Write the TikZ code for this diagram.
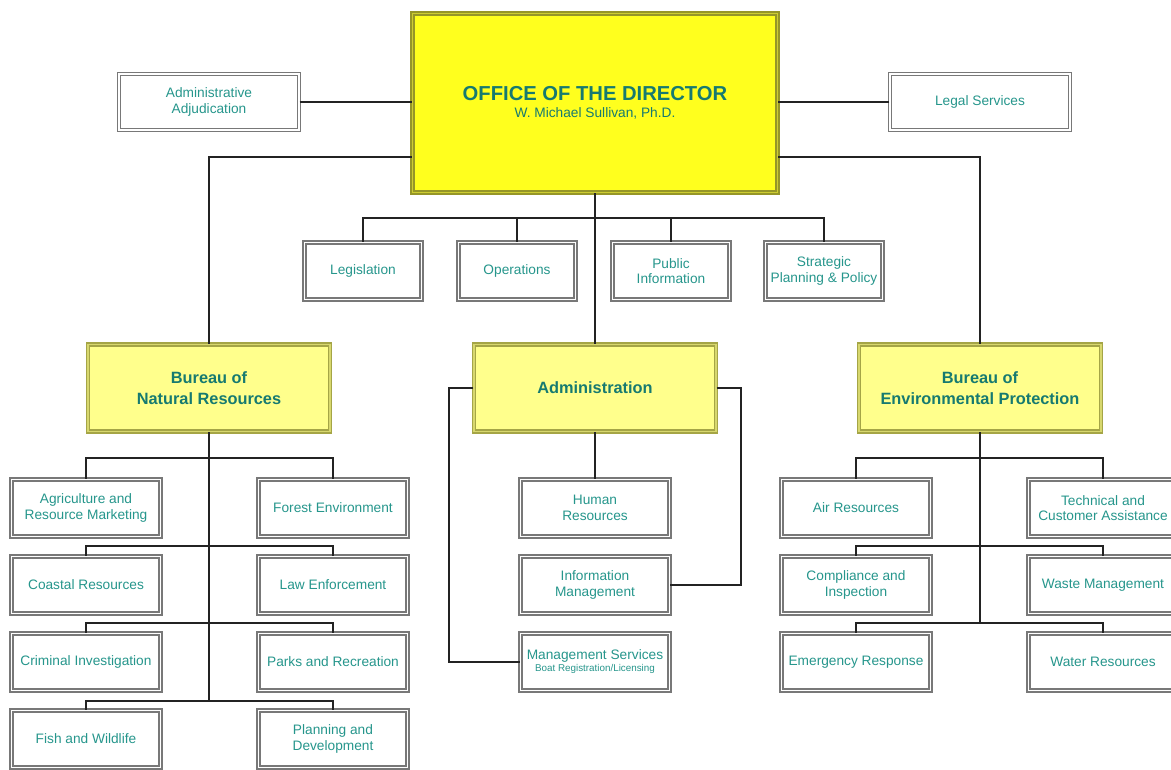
\documentclass[tikz,border=0pt]{standalone}
\usepackage{fontspec}
\setmainfont{Liberation Sans}
\usetikzlibrary{calc}
\definecolor{tealtext}{RGB}{38,150,140}
\definecolor{tealhead}{RGB}{22,122,112}
\definecolor{boxgray}{RGB}{120,120,120}
\definecolor{dirfill}{RGB}{255,255,30}
\definecolor{diredge}{RGB}{150,150,40}
\definecolor{dirmid}{RGB}{205,205,50}
\definecolor{burfill}{RGB}{255,255,140}
\definecolor{buredge}{RGB}{165,165,70}
\definecolor{burmid}{RGB}{215,215,110}
\definecolor{linkgray}{RGB}{35,35,35}
\begin{document}
\begin{tikzpicture}[x=0.02cm,y=0.02cm,
  unit/.style={draw=boxgray,double=white,line width=0.75pt,double distance=0.9pt,fill=white,
    text=tealtext,align=center,inner sep=0pt,font=\fontsize{7.8}{9}\selectfont,
    minimum width=2.98cm,minimum height=1.14cm},
  staff/.style={unit,minimum width=2.34cm},
  side/.style={unit,minimum width=3.6cm,minimum height=1.12cm},
  bureau/.style={unit,draw=buredge,double=burmid,fill=burfill,text=tealhead,
    font=\fontsize{9.3}{11.9}\selectfont\bfseries,minimum width=4.84cm,minimum height=1.74cm},
  director/.style={bureau,draw=diredge,double=dirmid,fill=dirfill,
    font=\fontsize{7.8}{9.8}\selectfont,minimum width=7.3cm,minimum height=3.58cm},
  link/.style={draw=linkgray,line width=1.1pt}]
\useasboundingbox (0,0) rectangle (1171,-769);

\node[director] (dir) at (595,-103) {{\fontsize{11.5}{9.8}\selectfont\bfseries OFFICE OF THE DIRECTOR}\\W. Michael Sullivan, Ph.D.};
\node[side] (adj) at (209,-102) {Administrative\\Adjudication};
\node[side] (legal) at (980,-102) {Legal Services};

\node[staff] (leg) at (363,-271) {Legislation};
\node[staff] (ops) at (517,-271) {Operations};
\node[staff] (pub) at (671,-271) {Public\\Information};
\node[staff] (strat) at (824,-271) {Strategic\\Planning \& Policy};

\node[bureau] (nr) at (209,-388) {Bureau of\\Natural Resources};
\node[bureau] (adm) at (595,-388) {Administration};
\node[bureau] (ep) at (980,-388) {Bureau of\\Environmental Protection};

\node[unit] (agr) at (86,-508) {Agriculture and\\Resource Marketing};
\node[unit] (coast) at (86,-585) {Coastal Resources};
\node[unit] (crim) at (86,-662) {Criminal Investigation};
\node[unit] (fish) at (86,-739) {Fish and Wildlife};
\node[unit] (forest) at (333,-508) {Forest Environment};
\node[unit] (law) at (333,-585) {Law Enforcement};
\node[unit] (parks) at (333,-662) {Parks and Recreation};
\node[unit] (plan) at (333,-739) {Planning and\\Development};

\node[unit] (hr) at (595,-508) {Human\\Resources};
\node[unit] (info) at (595,-585) {Information\\Management};
\node[unit] (mgmt) at (595,-662) {Management Services\\[-2.2pt]{\fontsize{5.6}{7}\selectfont Boat Registration/Licensing}};

\node[unit] (air) at (856,-508) {Air Resources};
\node[unit] (comp) at (856,-585) {Compliance and\\Inspection};
\node[unit] (emer) at (856,-662) {Emergency Response};
\node[unit] (tech) at (1103,-508) {Technical and\\Customer Assistance};
\node[unit] (waste) at (1103,-585) {Waste Management};
\node[unit] (water) at (1103,-662) {Water Resources};

\coordinate (nrend) at (209,-701);
\coordinate (epend) at (980,-624);

\draw[link] (adj.east) -- (adj.east -| dir.west);
\draw[link] (legal.west) -- (legal.west -| dir.east);
\draw[link] ($(dir.west)+(0,-54)$) -| (nr.north);
\draw[link] ($(dir.east)+(0,-54)$) -| (ep.north);
\draw[link] (dir.south) -- (adm.north);
\draw[link] (leg.north) -- ++(0,24) -| (strat.north);
\draw[link] (ops.north) -- ++(0,24);
\draw[link] (pub.north) -- ++(0,24);

\draw[link] (nr.south) -- (nrend);
\draw[link] (agr.north) -- ++(0,21) -| (forest.north);
\draw[link] (coast.north) -- ++(0,10) -| (law.north);
\draw[link] (crim.north) -- ++(0,10) -| (parks.north);
\draw[link] (fish.north) -- ++(0,9) -| (plan.north);

\draw[link] (adm.south) -- (hr.north);
\draw[link] (adm.west) -- ++(-24,0) |- (mgmt.west);
\draw[link] (adm.east) -- ++(24,0) |- (info.east);

\draw[link] (ep.south) -- (epend);
\draw[link] (air.north) -- ++(0,21) -| (tech.north);
\draw[link] (comp.north) -- ++(0,10) -| (waste.north);
\draw[link] (emer.north) -- ++(0,10) -| (water.north);

\end{tikzpicture}
\end{document}
